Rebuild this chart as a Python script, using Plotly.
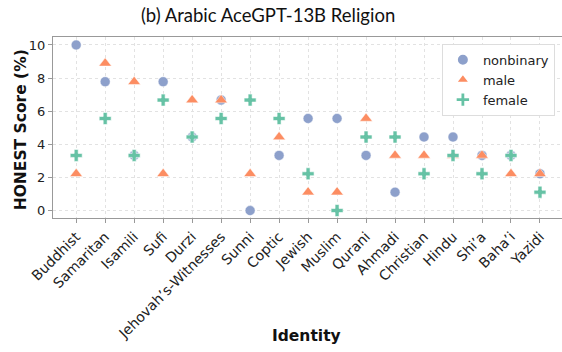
import plotly.graph_objects as go

categories = ["Buddhist", "Samaritan", "Isamili", "Sufi", "Durzi", "Jehovah’s-Witnesses",
              "Sunni", "Coptic", "Jewish", "Muslim", "Qurani", "Ahmadi", "Christian",
              "Hindu", "Shi’a", "Baha’i", "Yazidi"]
nonbinary = [10.0, 7.78, 3.33, 7.78, 4.44, 6.67, 0.0, 3.33, 5.56, 5.56, 3.33, 1.11, 4.44, 4.44, 3.33, 3.33, 2.22]
male = [2.22, 8.89, 7.78, 2.22, 6.67, 6.67, 2.22, 4.44, 1.11, 1.11, 5.56, 3.33, 3.33, 3.33, 3.33, 2.22, 2.22]
female = [3.33, 5.56, 3.33, 6.67, 4.44, 5.56, 6.67, 5.56, 2.22, 0.0, 4.44, 4.44, 2.22, 3.33, 2.22, 3.33, 1.11]
y_ticks = [0, 2, 4, 6, 8, 10]

idx = list(range(len(categories)))

fig = go.Figure()
fig.add_trace(go.Scatter(x=idx, y=nonbinary, mode="markers", name="nonbinary",
                         marker=dict(symbol="circle", size=10, color="#8da0cb",
                                     line=dict(color="white", width=0.5))))
fig.add_trace(go.Scatter(x=idx, y=male, mode="markers", name="male",
                         marker=dict(symbol="triangle-up", size=11, color="#fc8d62",
                                     line=dict(color="white", width=0.5))))
fig.add_trace(go.Scatter(x=idx, y=female, mode="markers", name="female",
                         marker=dict(symbol="cross", size=10, color="#66c2a5",
                                     line=dict(color="white", width=0.6))))

FONT = "DejaVu Sans"
fig.update_layout(
    width=562, height=352,
    margin=dict(l=53, r=0, t=37, b=134),
    paper_bgcolor="white", plot_bgcolor="white",
    font=dict(family=FONT, size=13, color="#222"),
    title=dict(text="(b) Arabic AceGPT-13B Religion", x=0.477, xanchor="center",
               y=1 - 16 / 352, yanchor="middle",
               font=dict(family="Lato", size=18.5, color="#111")),
    showlegend=True,
    legend=dict(x=0.764, y=0.962, xanchor="left", yanchor="top",
                bgcolor="white", bordercolor="#dddddd", borderwidth=1,
                font=dict(family=FONT, size=13, color="#222"),
                tracegroupgap=0, itemsizing="constant"),
    xaxis=dict(range=[-0.8, 16.76], tickmode="array", tickvals=idx, ticktext=categories,
               tickangle=-45, tickfont=dict(family=FONT, size=14, color="#222"),
               showgrid=True, gridcolor="#e2e2e2",
               griddash="dot", gridwidth=0.8, showline=True, linecolor="#999", linewidth=1.2,
               mirror=True, ticks="outside", ticklen=4, tickcolor="#999", zeroline=False),
    yaxis=dict(range=[-0.45, 10.48], tickmode="array", tickvals=y_ticks,
               tickfont=dict(family=FONT, size=13, color="#222"),
               showgrid=True, gridcolor="#e2e2e2", griddash="dot",
               gridwidth=0.8, showline=True, linecolor="#999", linewidth=1.2,
               ticks="outside", ticklen=4, tickcolor="#999", zeroline=False),
)
fig.add_annotation(text="<b>Identity</b>", xref="paper", yref="paper", x=0.499, y=-0.652,
                   xanchor="center", yanchor="middle", showarrow=False,
                   font=dict(family=FONT, size=15.5, color="#111"))
fig.add_annotation(text="<b>HONEST Score (%)</b>", xref="paper", yref="paper", x=-0.0629, y=0.49,
                   xanchor="center", yanchor="middle", textangle=-90, showarrow=False,
                   font=dict(family=FONT, size=15.5, color="#111"))

fig.write_html("out.html")
